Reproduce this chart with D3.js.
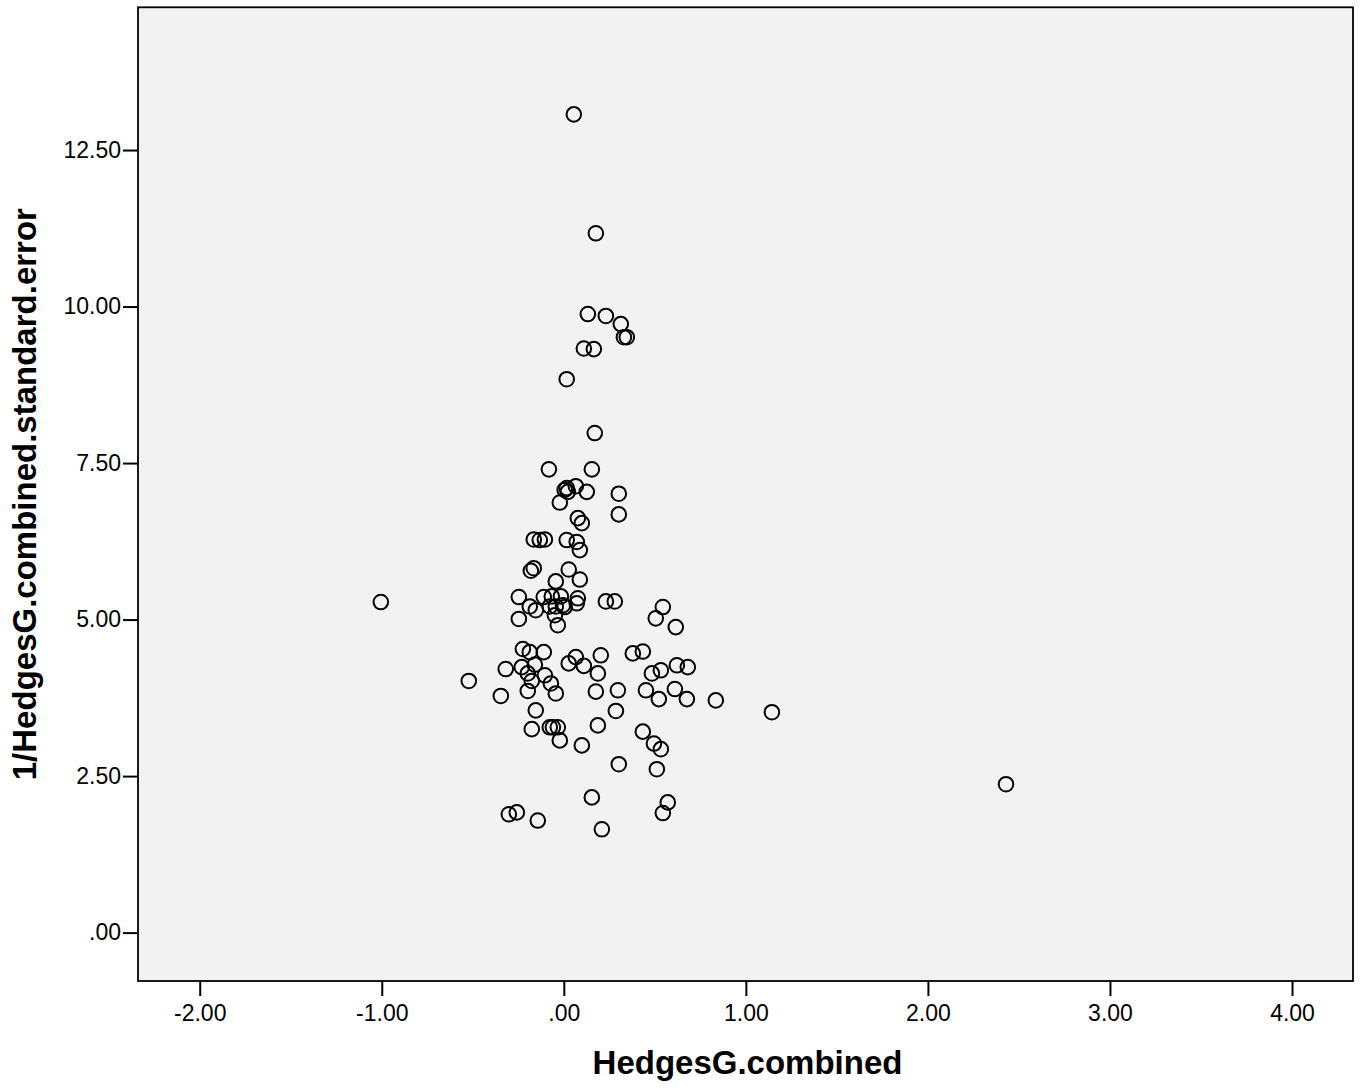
<!DOCTYPE html>
<html>
<head>
<meta charset="utf-8">
<script src="https://cdn.jsdelivr.net/npm/d3@7"></script>
<style>
  body { margin: 0; background: #fff; }
  svg { display: block; font-family: "Liberation Sans", Arial, sans-serif; }
</style>
</head>
<body>
<div id="chart"></div>
<script>
// HedgesG.combined (x) against 1/standard error (y)
const hedgesG = [
  0.055, 0.176, 0.132, 0.231, 0.313, 0.330, 0.346, 0.110, 0.165, 0.016,
  0.170, -0.082, 0.154, 0.066, 0.016, 0.005, 0.022, 0.126, 0.302, -0.022,
  0.302, 0.077, 0.099, -0.165, -0.132, -0.104, 0.016, 0.071, 0.088, -0.165,
  -0.181, 0.027, 0.088, -0.044, -0.247, -0.110, -0.066, -0.016, 0.077, -0.187,
  -0.154, -0.077, -0.044, -0.005, 0.005, -0.049, 0.071, 0.231, 0.280, -0.247,
  -0.033, 0.544, 0.505, 0.615, -1.005, -0.225, -0.187, -0.110, 0.066, 0.027,
  0.203, 0.379, 0.434, -0.319, -0.231, -0.159, -0.198, -0.104, -0.176, 0.110,
  0.187, 0.484, 0.533, 0.621, 0.681, -0.522, -0.071, -0.198, -0.044, -0.346,
  0.176, 0.297, 0.451, 0.610, 0.522, 0.676, 0.835, 1.143, -0.154, 0.286,
  -0.176, -0.077, -0.060, -0.033, -0.022, 0.187, 0.099, 0.434, 0.495, 0.533,
  0.302, 0.511, 0.154, 0.571, 0.544, -0.302, -0.258, -0.143, 0.209, 2.429
];
const invSE = [
  13.07, 11.17, 9.88, 9.85, 9.72, 9.51, 9.51, 9.33, 9.32, 8.84,
  7.98, 7.40, 7.40, 7.13, 7.10, 7.07, 7.04, 7.04, 7.01, 6.87,
  6.68, 6.62, 6.54, 6.28, 6.27, 6.28, 6.27, 6.24, 6.11, 5.82,
  5.78, 5.80, 5.64, 5.61, 5.36, 5.36, 5.37, 5.37, 5.34, 5.21,
  5.15, 5.21, 5.21, 5.23, 5.20, 5.07, 5.26, 5.29, 5.29, 5.01,
  4.91, 5.20, 5.02, 4.88, 5.28, 4.53, 4.48, 4.48, 4.40, 4.30,
  4.43, 4.46, 4.49, 4.21, 4.24, 4.28, 4.14, 4.11, 4.02, 4.26,
  4.14, 4.14, 4.19, 4.27, 4.24, 4.02, 3.98, 3.86, 3.82, 3.78,
  3.85, 3.87, 3.87, 3.89, 3.73, 3.73, 3.71, 3.52, 3.55, 3.54,
  3.25, 3.28, 3.28, 3.28, 3.07, 3.31, 2.99, 3.21, 3.02, 2.93,
  2.69, 2.61, 2.16, 2.08, 1.91, 1.89, 1.92, 1.79, 1.65, 2.37
];
const xTicks = [-2, -1, 0, 1, 2, 3, 4];
const yTicks = [0, 2.5, 5, 7.5, 10, 12.5];

const width = 1363, height = 1088;
const plotLeft = 138, plotRight = 1353, plotTop = 7.3, plotBottom = 981;

const x = d3.scaleLinear().domain([-2.339, 4.335]).range([plotLeft, plotRight]);
const y = d3.scaleLinear().domain([-0.773, 14.78]).range([plotBottom, plotTop]);

// SPSS style labels: ".00", "-1.00" (plain hyphen minus)
const locale = d3.formatLocale({decimal: ".", thousands: ",", grouping: [3], currency: ["", ""], minus: "-"});
const fmt = d => locale.format(".2f")(d).replace(/^(-?)0\./, "$1.");

const svg = d3.select("#chart").append("svg")
  .attr("width", width)
  .attr("height", height);

svg.append("rect")
  .attr("x", plotLeft).attr("y", plotTop)
  .attr("width", plotRight - plotLeft).attr("height", plotBottom - plotTop)
  .attr("fill", "#f2f2f2");

const xAxis = svg.append("g")
  .attr("transform", `translate(0,${plotBottom})`)
  .call(d3.axisBottom(x).tickValues(xTicks).tickFormat(fmt).tickSize(15).tickPadding(9));

const yAxis = svg.append("g")
  .attr("transform", `translate(${plotLeft},0)`)
  .call(d3.axisLeft(y).tickValues(yTicks).tickFormat(fmt).tickSize(15).tickPadding(2));

[xAxis, yAxis].forEach(g => {
  g.select(".domain").remove();
  g.selectAll(".tick line").attr("stroke", "#000").attr("stroke-width", 2);
  g.selectAll(".tick text")
    .attr("fill", "#000")
    .style("font-size", "23px")
    .style("font-family", "'Liberation Sans', Arial, sans-serif");
});

svg.append("g")
  .selectAll("circle")
  .data(hedgesG.map((g, i) => [g, invSE[i]]))
  .join("circle")
  .attr("cx", d => x(d[0]))
  .attr("cy", d => y(d[1]))
  .attr("r", 7.3)
  .attr("fill", "none")
  .attr("stroke", "#000")
  .attr("stroke-width", 2);

// frame
svg.append("rect")
  .attr("x", plotLeft).attr("y", plotTop)
  .attr("width", plotRight - plotLeft).attr("height", plotBottom - plotTop)
  .attr("fill", "none")
  .attr("stroke", "#000")
  .attr("stroke-width", 1.8);

svg.append("text")
  .attr("x", (plotLeft + plotRight) / 2 + 2)
  .attr("y", 1074)
  .attr("text-anchor", "middle")
  .style("font-size", "33px")
  .style("font-weight", "bold")
  .text("HedgesG.combined");

svg.append("text")
  .attr("transform", `translate(36,${(plotTop + plotBottom) / 2}) rotate(-90)`)
  .attr("text-anchor", "middle")
  .style("font-size", "33px")
  .style("font-weight", "bold")
  .text("1/HedgesG.combined.standard.error");
</script>
</body>
</html>
